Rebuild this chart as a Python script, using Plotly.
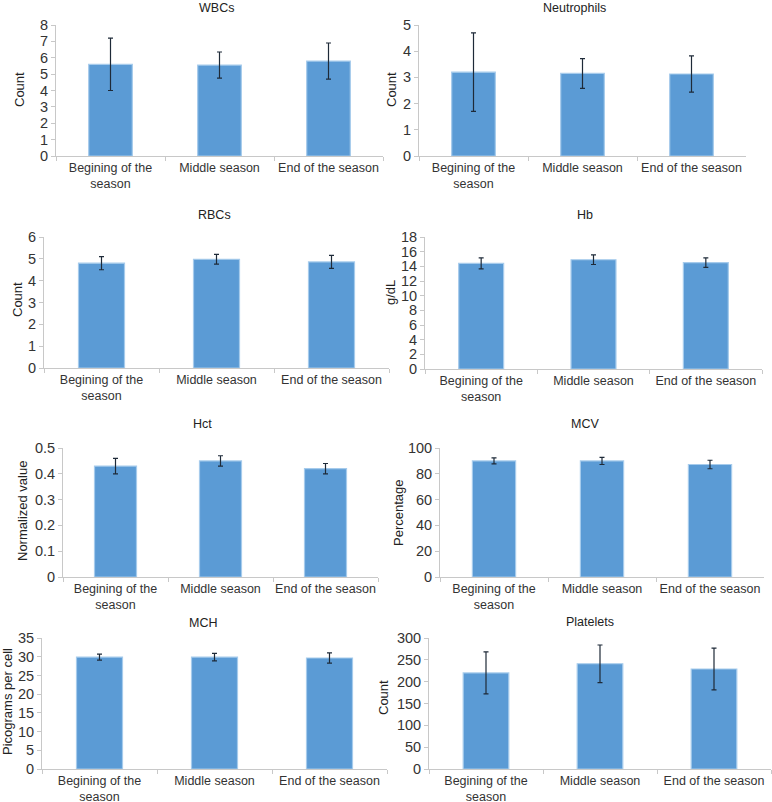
import plotly.graph_objects as go

W, H = 772, 802

categories = ["Begining of the<br>season", "Middle season", "End of the season"]

panel_titles = ["WBCs", "Neutrophils", "RBCs", "Hb", "Hct", "MCV", "MCH", "Platelets"]
axis_titles = ["Count", "Count", "Count", "g/dL", "Normalized value", "Percentage",
               "Picograms per cell", "Count"]

wbc_values = [5.6, 5.55, 5.8]
wbc_errors = [1.6, 0.8, 1.1]
neut_values = [3.2, 3.15, 3.13]
neut_errors = [1.5, 0.57, 0.69]
rbc_values = [4.8, 4.98, 4.86]
rbc_errors = [0.3, 0.22, 0.3]
hb_values = [14.4, 14.9, 14.5]
hb_errors = [0.75, 0.65, 0.65]
hct_values = [0.43, 0.45, 0.42]
hct_errors = [0.03, 0.02, 0.02]
mcv_values = [90.0, 90.0, 87.2]
mcv_errors = [2.3, 2.8, 3.3]
mch_values = [29.9, 29.9, 29.65]
mch_errors = [0.8, 1.0, 1.35]
plt_values = [220, 241, 229]
plt_errors = [48, 43, 48]

y_ranges = [[0, 8], [0, 5], [0, 6], [0, 18], [0, 0.5], [0, 100], [0, 35], [0, 300]]
y_dticks = [1, 1, 1, 2, 0.1, 20, 5, 50]

series = [(wbc_values, wbc_errors), (neut_values, neut_errors),
          (rbc_values, rbc_errors), (hb_values, hb_errors),
          (hct_values, hct_errors), (mcv_values, mcv_errors),
          (mch_values, mch_errors), (plt_values, plt_errors)]

# plot areas in pixels: (x0, x1, y0_top, y1_bottom)
boxes = [(56, 383, 25, 156), (419, 746, 25, 156),
         (44, 389, 237, 368), (425, 762, 237, 369),
         (63, 378, 448, 577), (440, 764, 448, 577),
         (42, 387, 638, 769), (429, 771, 638, 769)]
title_pos = [(216, 8), (574, 8), (214, 215), (585, 215),
             (202, 424), (585, 424), (203, 623), (590, 622)]
ytitle_pos = [(19, 90), (391, 90), (17, 300), (391, 293),
              (22, 511), (398, 513), (7, 702), (383, 698)]

fig = go.Figure()
axis_font = dict(family="Liberation Sans, Arial, sans-serif", size=14.5, color="#333333")
cat_font = dict(family="Liberation Sans, Arial, sans-serif", size=12.5, color="#333333")

annotations = []
for i, ((vals, errs), box) in enumerate(zip(series, boxes)):
    n = i + 1
    xa = "x" if n == 1 else f"x{n}"
    ya = "y" if n == 1 else f"y{n}"
    fig.add_trace(go.Bar(
        x=categories, y=vals, xaxis=xa, yaxis=ya,
        marker=dict(color="#5b9bd5", line=dict(color="#a6cbec", width=1.2)),
        error_y=dict(type="data", array=errs, visible=True,
                     color="#1e2a38", thickness=1.2, width=2.5),
        showlegend=False, hoverinfo="skip",
    ))
    x0, x1, yt, yb = box
    xkey = "xaxis" if n == 1 else f"xaxis{n}"
    ykey = "yaxis" if n == 1 else f"yaxis{n}"
    fig.update_layout(**{
        xkey: dict(domain=[x0 / W, x1 / W], anchor=ya, type="category",
                   showline=True, linecolor="#c8c8c8", linewidth=1,
                   ticks="outside", tickson="boundaries", ticklen=4,
                   tickcolor="#c8c8c8", showgrid=False, tickfont=cat_font,
                   tickangle=0, automargin=False, fixedrange=True),
        ykey: dict(domain=[1 - yb / H, 1 - yt / H], anchor=xa,
                   range=y_ranges[i], dtick=y_dticks[i], tick0=0,
                   showline=True, linecolor="#c8c8c8", linewidth=1,
                   ticks="outside", ticklen=4, tickcolor="#c8c8c8",
                   showgrid=False, zeroline=False, tickfont=axis_font,
                   automargin=False, fixedrange=True),
    })
    tx, ty = title_pos[i]
    annotations.append(dict(text=panel_titles[i], x=tx / W, y=1 - ty / H,
                            xref="paper", yref="paper", showarrow=False,
                            xanchor="center", yanchor="middle",
                            font=dict(family="Liberation Sans, Arial, sans-serif",
                                      size=12.5, color="#222222")))
    ax_, ay_ = ytitle_pos[i]
    annotations.append(dict(text=axis_titles[i], x=ax_ / W, y=1 - ay_ / H,
                            xref="paper", yref="paper", showarrow=False,
                            textangle=-90, xanchor="center", yanchor="middle",
                            font=dict(family="Liberation Sans, Arial, sans-serif",
                                      size=13, color="#222222")))

fig.update_layout(
    width=W, height=H, margin=dict(l=0, r=0, t=0, b=0),
    paper_bgcolor="white", plot_bgcolor="white",
    bargap=0.6, annotations=annotations,
)

fig.write_html("out.html", config={"displayModeBar": False},
               post_script="document.body.style.margin='0';document.body.style.overflow='hidden';")
